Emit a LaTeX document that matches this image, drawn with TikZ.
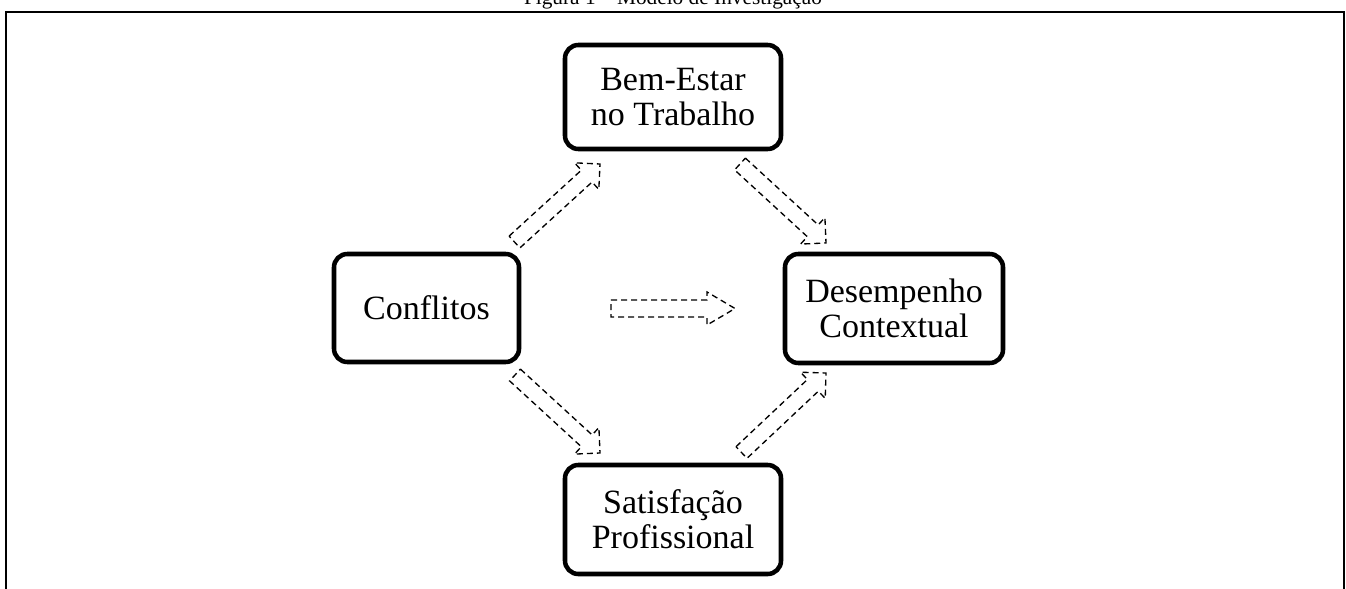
\documentclass[tikz,border=0pt]{standalone}
\usepackage{fontspec}
\setmainfont{Liberation Serif}
\usetikzlibrary{calc}
\tikzset{
  box/.style={draw, line width=3.4pt, rounded corners=10pt, inner sep=0pt, align=center,
    font=\fontsize{25.5}{26}\selectfont},
  blockarr/.style={draw, line width=1pt, dash pattern=on 4.5pt off 3pt, line join=miter},
  frame/.style={line width=1.5pt}
}
% tail, tip, half shaft width, half head width, head length
\newcommand\blockarrow[5]{%
  \coordinate (ba-b) at ($(#2)!#5!(#1)$);
  \draw[blockarr] ($(#1)!#3!90:(#2)$) -- ($(ba-b)!#3!90:(#2)$) -- ($(ba-b)!#4!90:(#2)$)
    -- (#2) -- ($(ba-b)!#4!-90:(#2)$) -- ($(ba-b)!#3!-90:(#2)$) -- ($(#1)!#3!-90:(#2)$) -- cycle;
}
\begin{document}
\begin{tikzpicture}[x=0.75pt, y=-0.75pt]
\useasboundingbox (0,0) rectangle (1346,589);
\clip (0,0) rectangle (1346,589);
\fill[white] (0,0) rectangle (1346,589);
% frame and title
\coordinate (fbl) at (6,600);
\coordinate (ftl) at (6,11.5);
\coordinate (ftr) at (1343.5,11.5);
\coordinate (fbr) at (1343.5,600);
\draw[frame] (fbl) -- (ftl) -- (ftr) -- (fbr);
\node[anchor=base, inner sep=0pt, font=\fontsize{16}{18}\selectfont] (title) at (673,4.5) {Figura 1 -- Modelo de Investigação};
% boxes
\node[box, minimum width=162pt, minimum height=78pt] (bem) at (673,97) {Bem-Estar\\no Trabalho};
\node[box, minimum width=138.75pt, minimum height=81pt] (conf) at (426.5,308) {Conflitos};
\node[box, minimum width=163.5pt, minimum height=81.75pt] (des) at (894,308.5) {Desempenho\\Contextual};
\node[box, minimum width=162pt, minimum height=81.75pt] (sat) at (673,519.5) {Satisfação\\Profissional};
% arrow end points
\coordinate (a1t) at (514.5,242);  \coordinate (a1h) at (600,164);
\coordinate (a2t) at (740,164);    \coordinate (a2h) at (826,243);
\coordinate (a3t) at (515,375);    \coordinate (a3h) at (600,453);
\coordinate (a4t) at (741.5,452.5);\coordinate (a4h) at (826,373);
\coordinate (a5t) at (611,308.5);  \coordinate (a5h) at (735,308.5);
\blockarrow{a1t}{a1h}{6pt}{13.5pt}{13.5pt}
\blockarrow{a2t}{a2h}{6pt}{13.5pt}{13.5pt}
\blockarrow{a3t}{a3h}{6pt}{13.5pt}{13.5pt}
\blockarrow{a4t}{a4h}{6pt}{13.5pt}{13.5pt}
\blockarrow{a5t}{a5h}{6.4pt}{12.4pt}{21pt}
\end{tikzpicture}
\end{document}
